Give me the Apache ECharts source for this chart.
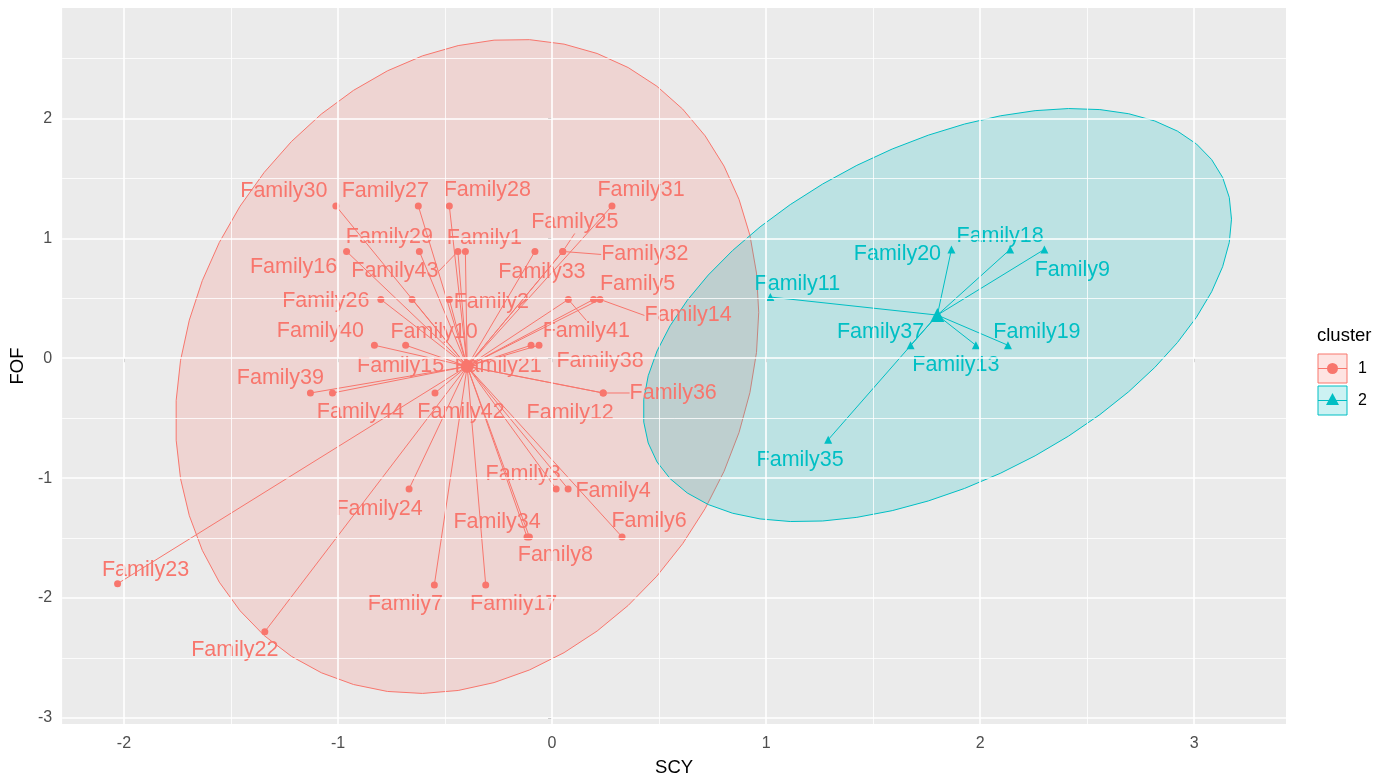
<!DOCTYPE html>
<html><head><meta charset="utf-8">
<script src="https://cdn.jsdelivr.net/npm/echarts@6/dist/echarts.min.js"></script>
<style>html,body{margin:0;padding:0;background:#fff}#c{width:1392px;height:782px}</style>
</head><body><div id="c"></div>
<script>
// ---------------- data ----------------
const clusterNames = ['1', '2'];
const names1 = ['Family1','Family2','Family3','Family4','Family5','Family6','Family7','Family8','Family10','Family12','Family14','Family15','Family16','Family17','Family21','Family22','Family23','Family24','Family25','Family26','Family27','Family28','Family29','Family30','Family31','Family32','Family33','Family34','Family36','Family38','Family39','Family40','Family41','Family42','Family43','Family44'];
const x1 = [-0.405,-0.48,0.019,0.075,0.194,0.327,-0.55,-0.106,-0.654,0.239,0.224,-0.684,-0.96,-0.31,-0.098,-1.342,-2.03,-0.668,0.05,-0.80,-0.625,-0.48,-0.62,-1.01,0.28,0.05,-0.08,-0.117,0.239,-0.061,-1.129,-0.83,0.076,-0.547,-0.44,-1.026];
const y1 = [0.89,0.49,-1.09,-1.09,0.49,-1.49,-1.89,-1.49,0.49,-0.29,0.49,0.108,0.89,-1.89,0.108,-2.28,-1.88,-1.09,0.89,0.49,1.27,1.27,0.89,1.27,1.27,0.89,0.89,-1.49,-0.29,0.108,-0.29,0.108,0.49,-0.29,0.89,-0.29];
const names2 = ['Family9','Family11','Family13','Family18','Family19','Family20','Family35','Family37'];
const x2 = [2.30,1.02,1.98,2.14,2.13,1.866,1.29,1.675];
const y2 = [0.907,0.51,0.108,0.907,0.108,0.907,-0.68,0.108];
const xTicks = [-2,-1,0,1,2,3];
const yTicks = [-3,-2,-1,0,1,2];
const xMinor = [-1.5,-0.5,0.5,1.5,2.5];
const yMinor = [-2.5,-1.5,-0.5,0.5,1.5,2.5];

// ---------------- style / layout config ----------------
const COL = ['#F8766D', '#00BFC4'];
const FILL = ['rgba(248,118,109,0.2)', 'rgba(0,191,196,0.2)'];
const FONT = "'Liberation Sans', Arial, sans-serif";
// label offsets in pixels (repelled label placement)
const labelOffsets = {
  Family30:[-52,-15], Family27:[-33,-15], Family28:[38,-16], Family31:[29,-16],
  Family25:[12,-29], Family32:[82,3], Family29:[-30,-14], Family1:[19,-13],
  Family16:[-53,16], Family43:[-63,20], Family10:[22,33], Family26:[-55,2],
  Family2:[42,3], Family33:[7,21], Family5:[44,-15], Family14:[88,16],
  Family41:[18,32], Family40:[-54,-14], Family15:[-5,21], Family38:[61,16],
  Family21:[-33,21], Family39:[-30,-15], Family44:[28,19], Family42:[26,19],
  Family12:[-33,20], Family36:[70,0], Family3:[-33,-15], Family4:[45,2],
  Family24:[-30,20], Family34:[-30,-15], Family8:[26,18], Family6:[27,-16],
  Family23:[28,-14], Family7:[-29,19], Family17:[28,19], Family22:[-30,18],
  Family20:[-54,5], Family18:[-10,-13], Family9:[28,21], Family11:[27,-13],
  Family37:[-30,-13], Family19:[29,-13], Family13:[-20,20], Family35:[-28,20]
};
// labels that get a leader segment
const leaderLabels = ['Family43','Family25','Family32','Family14','Family41','Family36'];

// ---------------- computations ----------------
function mean(a){ return a.reduce((s,v)=>s+v,0)/a.length; }
// normal-theory confidence ellipse (as ggplot2 stat_ellipse type="norm")
function ellipsePts(xs, ys, level, segments){
  const n = xs.length, mx = mean(xs), my = mean(ys);
  let sxx=0, syy=0, sxy=0;
  for (let i=0;i<n;i++){ const dx=xs[i]-mx, dy=ys[i]-my; sxx+=dx*dx; syy+=dy*dy; sxy+=dx*dy; }
  sxx/=(n-1); syy/=(n-1); sxy/=(n-1);
  const a = Math.sqrt(sxx), b = sxy/a, c = Math.sqrt(syy - b*b);
  const dfd = n-1;
  const f = dfd/2*(Math.pow(1-level, -2/dfd)-1); // qf(level, 2, dfd)
  const r = Math.sqrt(2*f);
  const pts = [];
  for (let k=0;k<=segments;k++){
    const t = 2*Math.PI*k/segments, u0=Math.cos(t), u1=Math.sin(t);
    pts.push([mx + r*(u0*a), my + r*(u0*b + u1*c)]);
  }
  return pts;
}
const groups = [
  {names:names1, xs:x1, ys:y1, sym:'circle', size:7, csize:13},
  {names:names2, xs:x2, ys:y2, sym:'triangle', size:8, csize:14}
];
groups.forEach(g => { g.cx = mean(g.xs); g.cy = mean(g.ys); g.ell = ellipsePts(g.xs, g.ys, 0.95, 51); });

const series = [];
// grid lines (drawn with markLine from tick arrays)
const gridLine = (v, axis, w) => ({ [axis]: v, lineStyle: {color:'#ffffff', width:w, type:'solid'} });
series.push({
  type:'scatter', data:[], z:0, silent:true,
  markLine:{ silent:true, symbol:['none','none'], label:{show:false}, animation:false,
    data: [
      ...xMinor.map(v=>gridLine(v,'xAxis',0.8)), ...yMinor.map(v=>gridLine(v,'yAxis',0.8)),
      ...xTicks.map(v=>gridLine(v,'xAxis',1.6)), ...yTicks.map(v=>gridLine(v,'yAxis',1.6))
    ] }
});
// ellipses
groups.forEach((g, gi) => {
  series.push({
    type:'custom', z:1, silent:true, data:[[g.cx, g.cy]],
    renderItem: (params, api) => ({
      type:'polygon',
      shape:{ points: g.ell.map(p => api.coord(p)) },
      style:{ fill: FILL[gi], stroke: COL[gi], lineWidth: 1 }
    })
  });
});
// star segments from centre to each point
groups.forEach((g, gi) => {
  series.push({
    type:'lines', coordinateSystem:'cartesian2d', z:2, silent:true,
    lineStyle:{ color: COL[gi], width: 1, opacity: 1 },
    data: g.xs.map((x,i)=>({ coords: [[g.cx, g.cy],[x, g.ys[i]]] }))
  });
});
// points with labels
groups.forEach((g, gi) => {
  series.push({
    type:'scatter', z:3, symbol:g.sym, symbolSize:g.size,
    itemStyle:{ color: COL[gi], opacity: 1 },
    label:{ show:true, position:'inside', formatter:'{b}', color: COL[gi], fontSize:21.5,
      fontFamily: FONT, textBorderWidth:0 },
    labelLine:{ show:false, lineStyle:{ color: COL[gi], width:1 } },
    labelLayout: (p) => {
      const o = labelOffsets[g.names[p.dataIndex]] || [0,0];
      return { dx:o[0], dy:o[1] };
    },
    data: g.xs.map((x,i)=>({ name:g.names[i], value:[x, g.ys[i]],
      labelLine:{ show: leaderLabels.indexOf(g.names[i]) >= 0, lineStyle:{ color: COL[gi], width:1 } } }))
  });
  series.push({
    type:'scatter', z:3, symbol:g.sym, symbolSize:g.csize,
    itemStyle:{ color: COL[gi], opacity: 1 },
    data: [[g.cx, g.cy]]
  });
});

// legend drawn as graphic
const legendGraphic = [
  { type:'text', left:1317, top:326, style:{ text:'cluster', fontSize:18.5, fontFamily:FONT, fill:'#000' } }
];
clusterNames.forEach((nm, gi) => {
  const top = 354 + gi*32;
  legendGraphic.push(
    { type:'rect', shape:{x:1318, y:top, width:29, height:29}, style:{ fill:FILL[gi], stroke:COL[gi], lineWidth:1 } },
    { type:'line', shape:{x1:1318, y1:top+14.5, x2:1347, y2:top+14.5}, style:{ stroke:COL[gi], lineWidth:1 } },
    gi===0
      ? { type:'circle', shape:{cx:1332.5, cy:top+14.5, r:5.5}, style:{ fill:COL[gi] } }
      : { type:'polygon', shape:{points:[[1332.5,top+7],[1339,top+19],[1326,top+19]]}, style:{ fill:COL[gi] } },
    { type:'text', left:1358, top:top+7, style:{ text:nm, fontSize:16, fontFamily:FONT, fill:'#000' } }
  );
});

const chart = echarts.init(document.getElementById('c'), null, {renderer:'canvas'});
chart.setOption({
  animation:false,
  backgroundColor:'#ffffff',
  grid:{ left:60, right:106, top:8, bottom:54, show:true, backgroundColor:'#EBEBEB', borderWidth:0, containLabel:false },
  xAxis:{ type:'value', min:-2.289, max:3.429,
    axisLine:{show:false},
    axisTick:{ show:true, customValues:xTicks, length:4, lineStyle:{color:'#333333', width:1} },
    axisLabel:{ customValues:xTicks, color:'#4D4D4D', fontSize:16, fontFamily:FONT, margin:12 },
    splitLine:{show:false},
    name:'SCY', nameLocation:'middle', nameGap:34, nameTextStyle:{ color:'#000', fontSize:18.5, fontFamily:FONT } },
  yAxis:{ type:'value', min:-3.05, max:2.92,
    axisLine:{show:false},
    axisTick:{ show:true, customValues:yTicks, length:4, lineStyle:{color:'#333333', width:1} },
    axisLabel:{ customValues:yTicks, color:'#4D4D4D', fontSize:16, fontFamily:FONT, margin:10 },
    splitLine:{show:false},
    name:'FOF', nameLocation:'middle', nameGap:32, nameRotate:90, nameTextStyle:{ color:'#000', fontSize:18.5, fontFamily:FONT } },
  series: series,
  graphic: legendGraphic
});
</script></body></html>
